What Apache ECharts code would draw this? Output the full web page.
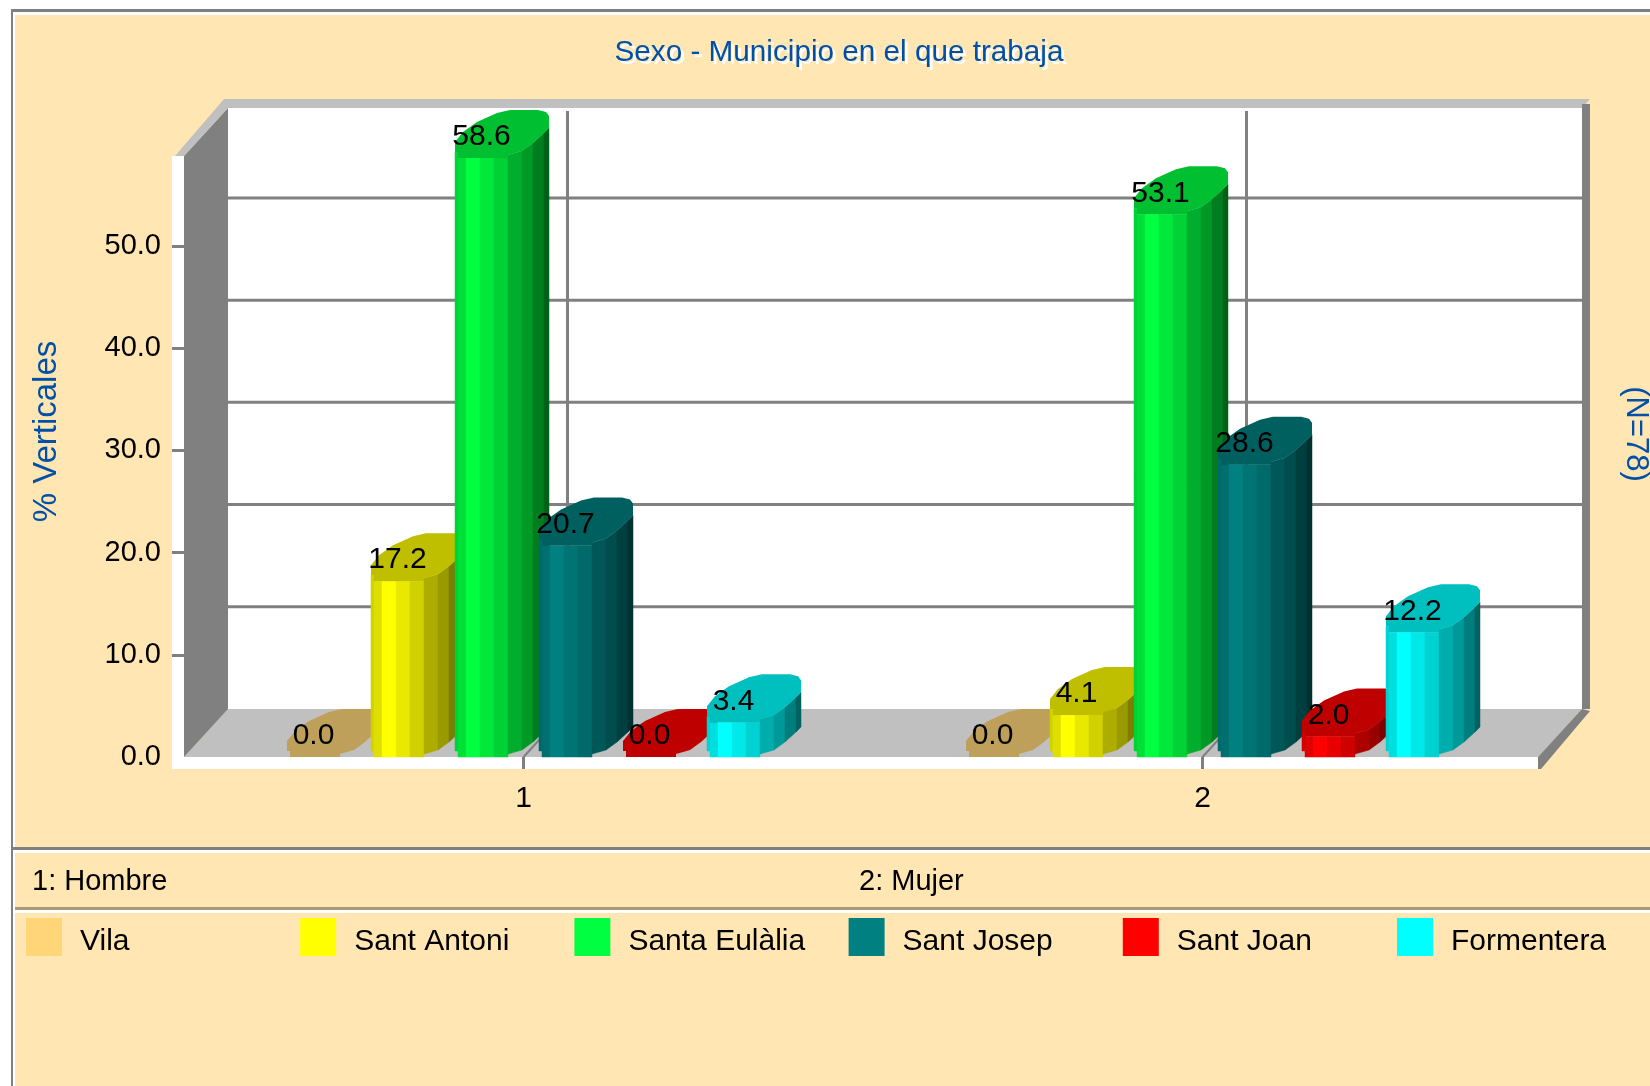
<!DOCTYPE html>
<html>
<head>
<meta charset="utf-8">
<style>html,body{margin:0;padding:0;background:#fff}#c{width:1650px;height:1086px}</style>
<script src="https://cdn.jsdelivr.net/npm/echarts@6/dist/echarts.min.js"></script>
</head>
<body>
<div id="c"></div>
<script>
const categories = ['1', '2'];
const vila = [0.0, 0.0];
const santAntoni = [17.2, 4.1];
const santaEulalia = [58.6, 53.1];
const santJosep = [20.7, 28.6];
const santJoan = [0.0, 2.0];
const formentera = [3.4, 12.2];
const cityNames = ['Vila', 'Sant Antoni', 'Santa Eulàlia', 'Sant Josep', 'Sant Joan', 'Formentera'];
const cityValues = [vila, santAntoni, santaEulalia, santJosep, santJoan, formentera];
const cityColors = [[255, 213, 120], [255, 255, 0], [0, 255, 64], [0, 128, 128], [255, 0, 0], [0, 255, 255]];
const yLabels = [0, 10, 20, 30, 40, 50];
const yTicks = [10, 20, 30, 40, 50];
const gridValues = [10, 20, 30, 40, 50];
const categoryNotes = ['1: Hombre', '2: Mujer'];

const FONT = '"Liberation Sans", Arial, sans-serif';
const BLUE = '#0050a8', GRAY = '#808080', LIGHT = '#c0c0c0', BEIGE = '#ffe6b3';
const DX = 44, DY = 48;              // oblique depth of the plot box
const BOX_W = 1354;                  // drawn width of the box front
const SLOT = 84 / 679;               // bar pitch as share of a category
const FRONT_W = 53;
// vertical shading bands of a cylinder: [from, to, brightness]
const STRIPS = [[0, 3, .82], [3, 11, .87], [11, 25, 1], [25, 39, .91], [39, 53, .82], [53, 67, .68], [67, 78, .6], [78, 89, .49], [89, 94, .38]];
// lower rim of the cylinder (x offset, y offset)
const RIM = [[0, -6], [3, -6], [3, 0], [53, 0], [53, -3], [67, -7], [78, -15], [89, -25], [94, -30]];
const CAP_BACK = [[94, -42], [91, -46], [83, -48], [55, -48], [42, -45], [22, -36], [8, -26], [0, -16]];

function shade(c, f) { return 'rgb(' + c.map(v => Math.round(v * f)).join(',') + ')'; }
function rimAt(x) {
  for (let i = RIM.length - 1; i > 0; i--) {
    const a = RIM[i - 1], b = RIM[i];
    if (x >= a[0] && x <= b[0] && b[0] > a[0]) return a[1] + (b[1] - a[1]) * (x - a[0]) / (b[0] - a[0]);
  }
  return 0;
}
function rimBetween(x0, x1) {
  const xs = [x0];
  RIM.forEach(p => { if (p[0] > x0 && p[0] < x1 && xs.indexOf(p[0]) < 0) xs.push(p[0]); });
  xs.push(x1);
  return xs.map(x => [x, rimAt(x === x0 ? x + .001 : x === x1 ? x - .001 : x)]);
}

function cylinderRenderer(cityIdx) {
  return function (params, api) {
    const pt = api.coord([api.value(0), api.value(1)]);
    const base = api.coord([api.value(0), 0])[1];
    const slot = api.size([1, 0])[0] * SLOT;
    const L = pt[0] + (cityIdx - 2.5) * slot - FRONT_W / 2;
    const top = pt[1];
    const color = cityColors[cityIdx];
    const children = [];
    if (base - top > 0.5) {
      STRIPS.forEach(s => {
        const edge = rimBetween(s[0], s[1]);
        const pts = edge.map(p => [L + p[0], base + p[1]])
          .concat(edge.slice().reverse().map(p => [L + p[0], top + p[1]]));
        children.push({ type: 'polygon', shape: { points: pts }, style: { fill: shade(color, s[2]), stroke: shade(color, s[2]), lineWidth: .5 } });
      });
    }
    const cap = RIM.concat(CAP_BACK).map(p => [L + p[0], top + p[1]]);
    children.push({ type: 'polygon', shape: { points: cap }, style: { fill: shade(color, .75) } });
    children.push({
      type: 'text', z2: 100,
      style: { x: L + FRONT_W / 2, y: top - 21, text: api.value(1).toFixed(1), fill: '#000', font: '30px ' + FONT, textAlign: 'center', textVerticalAlign: 'middle' }
    });
    return { type: 'group', children: children };
  };
}

function wallsRenderer(params) {
  const g = params.coordSys;
  const x0 = g.x, x1 = g.x + BOX_W, y0 = g.y, y1 = g.y + g.height;
  const poly = (pts, fill) => ({ type: 'polygon', shape: { points: pts }, style: { fill: fill } });
  const rect = (x, y, w, h, fill) => ({ type: 'rect', shape: { x, y, width: w, height: h }, style: { fill: fill } });
  return {
    type: 'group', children: [
      rect(x0 + DX, y0 - DY, BOX_W, g.height + 1, '#fff'),
      rect(x0 - 12, y0, 12, g.height + 12, '#fff'),
      rect(x0 - 12, y1, BOX_W + 12, 12, '#fff'),
      poly([[x0, y1], [x0 + DX, y1 - DY], [x1 + DX, y1 - DY], [x1, y1]], LIGHT),
      poly([[x0, y0], [x0 + DX, y0 - DY], [x0 + DX, y1 - DY], [x0, y1]], GRAY),
      poly([[x0 - 9, y0], [x0 + DX - 4, y0 - DY - 9], [x1 + DX + 8, y0 - DY - 9], [x1 + DX, y0 - DY], [x0 + DX, y0 - DY], [x0, y0]], LIGHT),
      rect(x1 + DX, y0 - DY - 4, 8, g.height + 4, GRAY),
      poly([[x1, y1], [x1 + DX, y1 - DY], [x1 + DX + 8, y1 - DY + 2], [x1 + 3, y1 + 12], [x1, y1 + 12]], GRAY)
    ]
  };
}
function gridLineRenderer(params, api) {
  const g = params.coordSys;
  const y = api.coord([0, api.value(1)])[1] - DY;
  return { type: 'rect', shape: { x: g.x + DX, y: y - 1.5, width: BOX_W, height: 3 }, style: { fill: GRAY } };
}
function categoryLineRenderer(params, api) {
  const g = params.coordSys;
  const x = api.coord([api.value(0), 0])[0];
  const y1 = g.y + g.height;
  return {
    type: 'group', children: [
      { type: 'rect', shape: { x: x + DX - 1.5, y: g.y - DY + 3, width: 3, height: g.height }, style: { fill: GRAY } },
      { type: 'line', shape: { x1: x, y1: y1, x2: x + DX, y2: y1 - DY }, style: { stroke: GRAY, lineWidth: 2 } }
    ]
  };
}

const sharedCustom = { type: 'custom', coordinateSystem: 'cartesian2d', clip: false, silent: true };
const series = [
  Object.assign({}, sharedCustom, { name: 'walls', z: 1, renderItem: wallsRenderer, data: [[0, 0]] }),
  Object.assign({}, sharedCustom, { name: 'gridlines', z: 1, renderItem: gridLineRenderer, data: gridValues.map(v => [0, v]) }),
  Object.assign({}, sharedCustom, { name: 'catlines', z: 1, renderItem: categoryLineRenderer, data: categories.map((c, i) => [i, 0]) })
].concat(cityNames.map((name, i) => Object.assign({}, sharedCustom, {
  name: name, z: 2, renderItem: cylinderRenderer(i),
  itemStyle: { color: shade(cityColors[i], 1) },
  encode: { x: 0, y: 1 },
  data: cityValues[i].map((v, k) => [k, v])
})));

const panel = [
  { type: 'rect', z: -10, shape: { x: 11, y: 9, width: 1639, height: 1077 }, style: { fill: GRAY } },
  { type: 'rect', z: -10, shape: { x: 13, y: 12, width: 1637, height: 1074 }, style: { fill: '#fff' } },
  { type: 'rect', z: -10, shape: { x: 15, y: 15, width: 1635, height: 1071 }, style: { fill: BEIGE } },
  { type: 'rect', z: -9, shape: { x: 13, y: 847, width: 1637, height: 3 }, style: { fill: GRAY } },
  { type: 'rect', z: -9, shape: { x: 13, y: 850, width: 1637, height: 3 }, style: { fill: '#fff' } },
  { type: 'rect', z: -9, shape: { x: 15, y: 907, width: 1635, height: 3 }, style: { fill: '#a89c78' } },
  { type: 'rect', z: -9, shape: { x: 15, y: 910, width: 1635, height: 3 }, style: { fill: '#fff' } },
  { type: 'text', z: 10, x: 47, y: 431.5, rotation: Math.PI / 2, style: { text: '% Verticales', fill: BLUE, font: '33px ' + FONT, textAlign: 'center', textVerticalAlign: 'middle' } },
  { type: 'text', z: 10, x: 1636, y: 434, rotation: -Math.PI / 2, style: { text: '(N=78)', fill: BLUE, font: '31px ' + FONT, textAlign: 'center', textVerticalAlign: 'middle' } },
  { type: 'text', z: 10, x: 32, y: 882, style: { text: categoryNotes[0], fill: '#000', font: '29px ' + FONT, textVerticalAlign: 'middle' } },
  { type: 'text', z: 10, x: 859, y: 882, style: { text: categoryNotes[1], fill: '#000', font: '29px ' + FONT, textVerticalAlign: 'middle' } }
];

const chart = echarts.init(document.getElementById('c'), null, { renderer: 'canvas' });
chart.setOption({
  animation: false,
  backgroundColor: '#fff',
  title: {
    text: 'Sexo - Municipio en el que trabaja', left: 839, top: 38, textAlign: 'center', padding: 0,
    textStyle: { color: BLUE, fontFamily: FONT, fontSize: 29.7, fontWeight: 'normal', textShadowColor: '#ffffff', textShadowOffsetX: 3, textShadowOffsetY: 3, textShadowBlur: 0.2 }
  },
  legend: cityNames.map((name, i) => ({
    data: [name], left: 26 + 274.2 * i, top: 918, padding: 0,
    icon: 'path://M0 0H36V38H0ZM0 47H0.01V47.01H0Z', itemWidth: 36, itemHeight: 47, selectedMode: false,
    textStyle: { color: '#000', fontFamily: FONT, fontSize: 30, padding: [0, 0, 0, 13] }
  })),
  grid: { left: 184, top: 156, width: 1358, height: 601, containLabel: false },
  xAxis: {
    type: 'category', data: categories, z: 3,
    axisLine: { show: false },
    axisTick: { show: true, alignWithLabel: true, length: 12, lineStyle: { color: GRAY, width: 3 } },
    axisLabel: { color: '#000', fontFamily: FONT, fontSize: 30, margin: 27 },
    splitLine: { show: false }
  },
  yAxis: {
    type: 'value', min: 0, max: 58.8, z: 3,
    axisLine: { show: false },
    axisTick: { show: true, length: 12, customValues: yTicks, lineStyle: { color: GRAY, width: 3 } },
    axisLabel: { color: '#000', fontFamily: FONT, fontSize: 29, margin: 23, customValues: yLabels, formatter: v => v.toFixed(1) },
    splitLine: { show: false }
  },
  graphic: panel,
  series: series
});
</script>
</body>
</html>
